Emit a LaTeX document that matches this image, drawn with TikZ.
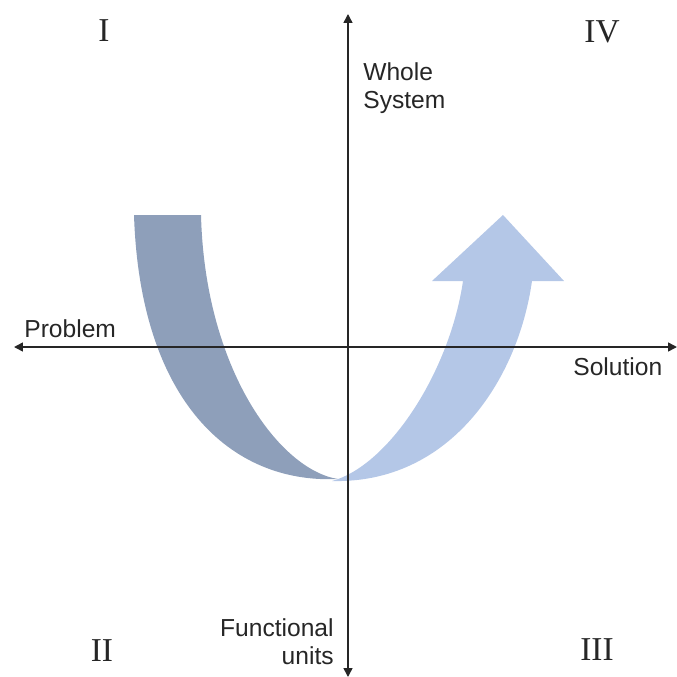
\documentclass[tikz,border=0pt]{standalone}
\usepackage{fontspec}
\setmainfont{Liberation Sans}
\newfontfamily\romanfont{Liberation Serif}
\usetikzlibrary{arrows.meta}
\definecolor{Ink}{HTML}{262626}
\definecolor{Slate}{HTML}{8E9FBA}
\definecolor{Sky}{HTML}{B4C7E7}

\begin{document}
\begin{tikzpicture}[x=0.02cm,y=-0.02cm,
        ax/.style={{Triangle[length=5pt,width=5pt]}-{Triangle[length=5pt,width=5pt]},draw=Ink,line width=0.85pt},
        lbl/.style={inner sep=0pt,text=Ink,font=\fontsize{14}{15.5}\selectfont},
        quad/.style={inner sep=0pt,text=Ink,font=\romanfont\fontsize{19}{19}\selectfont}]
        \useasboundingbox (0,0) rectangle (677,677);
        % bands
        \fill[Slate] (134,215) -- (201,215) .. controls (205,370) and (280,470) .. (338,479)
          .. controls (230,484) and (140,400) .. (134,215) -- cycle;
        \fill[Sky] (332,481) .. controls (390,465) and (450,370) .. (463,281) -- (432,281)
          -- (503,215) -- (564,281) -- (532,281) .. controls (518,380) and (450,484) .. (332,481) -- cycle;
        % axes
        \coordinate (top) at (348,14);
        \coordinate (bot) at (348,677);
        \coordinate (lft) at (14,347);
        \coordinate (rgt) at (677,347);
        \draw[ax] (lft) -- (rgt);
        \draw[ax] (bot) -- (top);
        % labels
        \node[lbl,anchor=base west] (prob) at (24,337) {Problem};
        \node[lbl,anchor=base west] (sol) at (573,375) {Solution};
        \node[lbl,anchor=base west,align=left] (whole) at (363,108) {Whole\\System};
        \node[lbl,anchor=base east,align=right] (func) at (334,664) {Functional\\units};
        \node[quad] (q1) at (104,31) {I};
        \node[quad] (q4) at (602,32) {IV};
        \node[quad] (q2) at (102,651) {II};
        \node[quad] (q3) at (597,650) {III};
      \end{tikzpicture}
\end{document}
